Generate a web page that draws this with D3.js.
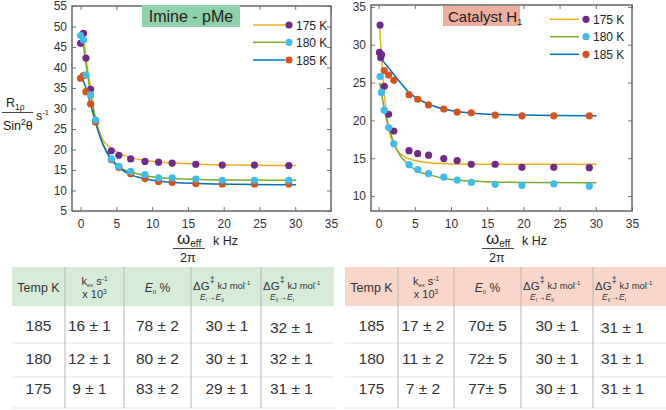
<!DOCTYPE html>
<html><head><meta charset="utf-8">
<script src="https://cdn.jsdelivr.net/npm/d3@7"></script>
<style>
html,body{margin:0;padding:0;background:#fff;}
text{font-family:"Liberation Sans",Arial,sans-serif;}
</style></head>
<body>
<script>
// ---------- DATA ----------
const xTicks = [0,5,10,15,20,25,30,35];
const leftYTicks = [5,10,15,20,25,30,35,40,45,50,55];
const rightYTicks = [10,15,20,25,30,35];
const seriesNames = ["175 K","180 K","185 K"];

// Imine - pMe : measured points
const imineX = [0.0,0.4,0.75,1.4,2.1,4.3,5.35,7.0,9.0,10.9,12.8,16.1,19.8,24.3,29.1];
const imine175 = [45.9,48.3,42.3,34.7,26.8,19.7,18.6,17.7,17.1,16.9,16.7,16.4,16.2,16.2,16.1];
const imine180 = [47.8,46.7,38.2,33.3,27.2,17.7,15.9,14.7,13.9,13.1,13.1,12.8,12.5,12.5,12.5];
const imine185 = [37.4,38.0,34.1,31.1,26.7,17.5,15.6,14.1,12.9,12.2,12.0,11.7,11.6,11.6,11.6];
// Imine - pMe : fitted curves
const imineFitX175 = [0.4,0.75,1.4,2.1,3.1,4.3,5.5,7.3,9.5,12,16.5,22,30.1];
const imineFit175 = [48.3,42.5,35,27.5,22.4,20.3,19.0,17.9,17.2,16.8,16.4,16.2,16.1];
const imineFitX180 = [0.2,0.75,1.4,2.1,3.1,4.3,5.5,7.3,9.5,12,16.5,22,30.1];
const imineFit180 = [47.5,41,33.5,27,21.5,17.8,15.6,14.4,13.5,13.0,12.7,12.55,12.5];
const imineFitX185 = [0.0,0.75,1.4,2.1,3.1,4.3,5.5,7.3,9.5,12,16.5,22,30.1];
const imineFit185 = [38.5,35,31,26.5,21.3,17.5,15.4,13.7,12.7,12.1,11.7,11.5,11.4];

// Catalyst H1 : measured points
const catX175 = [0.2,0.12,0.4,0.3,0.78,1.38,2.1,4.2,5.4,6.9,9.0,10.85,12.8,16.1,19.8,24.2,29.1];
const cat175 = [32.6,29.0,28.7,28.3,24.5,20.8,18.6,16.0,15.6,15.4,14.95,14.7,14.2,14.2,13.8,13.8,13.75];
const catX180 = [0.2,0.4,0.78,1.38,2.1,4.2,5.4,6.9,9.0,10.85,12.8,16.1,19.8,24.2,29.1];
const cat180 = [25.8,23.7,21.35,19.05,16.9,14.15,13.5,12.96,12.5,12.1,11.8,11.55,11.4,11.6,11.3];
const catX185 = [0.78,1.38,2.1,4.2,5.4,6.9,9.0,10.85,12.8,16.1,19.8,24.2,29.1];
const cat185 = [26.6,26.0,25.3,23.4,22.8,22.05,21.5,21.1,21.0,20.7,20.6,20.6,20.6];
// Catalyst H1 : fitted curves
const catFitX175 = [0.15,0.5,1,1.5,2,3,4,5,7,10,15,30.1];
const catFit175 = [32.2,27,21.5,18.5,17,15.6,15.0,14.7,14.4,14.25,14.2,14.2];
const catFitX180 = [0.15,0.5,1,1.5,2,3,4,5,7,10,15,20,30.1];
const catFit180 = [25.0,23,20.5,18.8,17.3,15.3,14.3,13.5,12.8,12.2,11.9,11.8,11.75];
const catFitX185 = [0.3,1,2,3,4,5,7,10,13,20,30.1];
const catFit185 = [28.2,27.4,26.2,25,23.9,23.1,22.1,21.3,20.95,20.7,20.6];

// Tables
const tempRows = ["185","180","175"];
const imineKex = ["16 ± 1","12 ± 1","9 ± 1"];
const imineEII = ["78 ± 2","80 ± 2","83 ± 2"];
const imineG1 = ["30 ± 1","30 ± 1","29 ± 1"];
const imineG2 = ["32 ± 1","32 ± 1","31 ± 1"];
const catKex = ["17 ± 2","11 ± 2","7 ± 2"];
const catEII = ["70± 5","72± 5","77± 5"];
const catG1 = ["30 ± 1","30 ± 1","30 ± 1"];
const catG2 = ["31 ± 1","31 ± 1","31 ± 1"];

// ---------- STYLE ----------
const lineColors = ["#edb120","#77ac30","#0072bd"];
const dotColors = ["#6f2a8c","#3fbcee","#d6541b"];
const FONT = '"Liberation Sans",Arial,sans-serif';

const svg = d3.select("body").append("svg").attr("width",666).attr("height",410);

function drawPlot(o){
  const g = svg.append("g");
  const x = d3.scaleLinear().domain(o.xd).range(o.xr);
  const y = d3.scaleLinear().domain(o.yd).range(o.yr);
  const [x0,x1] = o.xr, [y0,y1] = o.yr;
  const axStyle = sel => {
    sel.select(".domain").remove();
    sel.selectAll(".tick line").attr("stroke","#777");
    sel.selectAll(".tick text").attr("fill","#333").style("font-size","12px").style("font-family",FONT);
  };
  g.append("g").attr("transform",`translate(0,${y0})`)
    .call(d3.axisBottom(x).tickValues(xTicks).tickSize(-4).tickPadding(8)).call(axStyle);
  g.append("g").attr("transform",`translate(0,${y1})`)
    .call(d3.axisTop(x).tickValues(xTicks).tickSize(-4).tickFormat("")).call(axStyle);
  g.append("g").attr("transform",`translate(${x0},0)`)
    .call(d3.axisLeft(y).tickValues(o.yTicks).tickSize(-4).tickPadding(5)).call(axStyle);
  g.append("g").attr("transform",`translate(${x1},0)`)
    .call(d3.axisRight(y).tickValues(o.yTicks).tickSize(-4).tickFormat("")).call(axStyle);
  g.append("rect").attr("x",x0).attr("y",y1).attr("width",x1-x0).attr("height",y0-y1)
    .attr("fill","none").attr("stroke","#666").attr("stroke-width",1.5);

  const line = d3.line().x(d=>x(d[0])).y(d=>y(d[1])).curve(d3.curveMonotoneX);
  o.fits.forEach((f,i)=>{
    g.append("path").datum(d3.zip(f[0],f[1])).attr("d",line)
      .attr("fill","none").attr("stroke",lineColors[i]).attr("stroke-width",1.5);
  });
  o.drawOrder.forEach(i=>{
    const p = o.points[i];
    g.append("g").selectAll("circle").data(d3.zip(p[0],p[1])).join("circle")
      .attr("cx",d=>x(d[0])).attr("cy",d=>y(d[1])).attr("r",3.6).attr("fill",dotColors[i]);
  });
  seriesNames.forEach((n,i)=>{
    const ly = o.leg.y[i];
    g.append("line").attr("x1",o.leg.x1).attr("x2",o.leg.x2).attr("y1",ly).attr("y2",ly)
      .attr("stroke",lineColors[i]).attr("stroke-width",1.5);
    g.append("circle").attr("cx",o.leg.dx).attr("cy",ly).attr("r",3.6).attr("fill",dotColors[i]);
    g.append("text").attr("x",o.leg.tx).attr("y",ly+4.5).attr("fill","#222")
      .style("font-size","12px").text(n);
  });
  const xl = o.xlab;
  const w = g.append("text").attr("x",xl.x).attr("y",244).attr("fill","#222").style("font-size","17px");
  w.append("tspan").text("ω");
  w.append("tspan").attr("dy",3).style("font-size","10px").text("eff");
  g.append("line").attr("x1",xl.x-4).attr("x2",xl.x+28).attr("y1",248.5).attr("y2",248.5).attr("stroke","#333").attr("stroke-width",0.9);
  g.append("text").attr("x",xl.x+3).attr("y",262).attr("fill","#222").style("font-size","12.5px").text("2π");
  g.append("text").attr("x",xl.x+36).attr("y",245).attr("fill","#222").style("font-size","12.5px").text("k Hz");
  return {x,y,g};
}

drawPlot({
  xd:[-1.2,35], xr:[72,331], yd:[5,55], yr:[211,6], yTicks:leftYTicks,
  fits:[[imineFitX175,imineFit175],[imineFitX180,imineFit180],[imineFitX185,imineFit185]],
  points:[[imineX,imine175],[imineX,imine180],[imineX,imine185]],
  drawOrder:[0,2,1],
  leg:{x1:253,x2:285,dx:289,tx:296,y:[25,42.3,60]},
  xlab:{x:177}
});
drawPlot({
  xd:[-1.05,35], xr:[371,632], yd:[8.02,35.26], yr:[211,5], yTicks:rightYTicks,
  fits:[[catFitX175,catFit175],[catFitX180,catFit180],[catFitX185,catFit185]],
  points:[[catX175,cat175],[catX180,cat180],[catX185,cat185]],
  drawOrder:[2,0,1],
  leg:{x1:550,x2:579,dx:586,tx:593,y:[19.3,36.7,54.3]},
  xlab:{x:486}
});

// titles
svg.append("rect").attr("x",142).attr("y",5).attr("width",98).attr("height",22).attr("fill","#8fd1a8");
svg.append("text").attr("x",191).attr("y",22).attr("text-anchor","middle").attr("fill","#222")
  .style("font-size","16px").text("Imine - pMe");
svg.append("rect").attr("x",443).attr("y",6).attr("width",77).attr("height",20).attr("fill","#eeae9c");
const ct = svg.append("text").attr("x",448).attr("y",22).attr("fill","#222").style("font-size","15px");
ct.append("tspan").text("Catalyst  H");
ct.append("tspan").attr("dy",3).style("font-size","9px").text("1");

// y label (left)
const yl1 = svg.append("text").attr("x",6).attr("y",107).attr("fill","#222").style("font-size","12.5px");
yl1.append("tspan").text("R");
yl1.append("tspan").attr("dy",3).style("font-size","8.5px").text("1ρ");
svg.append("line").attr("x1",2).attr("x2",33).attr("y1",112.5).attr("y2",112.5).attr("stroke","#333").attr("stroke-width",0.9);
const yl2 = svg.append("text").attr("x",3).attr("y",130).attr("fill","#222").style("font-size","12.5px");
yl2.append("tspan").text("Sin");
yl2.append("tspan").attr("dy",-5).style("font-size","8.5px").text("2");
yl2.append("tspan").attr("dy",5).text("θ");
const yl3 = svg.append("text").attr("x",36).attr("y",120).attr("fill","#222").style("font-size","12.5px");
yl3.append("tspan").text("s");
yl3.append("tspan").attr("dy",-5).style("font-size","7.5px").text("-1");

// ---------- TABLES ----------
function drawTable(o){
  const g = svg.append("g");
  const c = o.cols, top=267, hb=306;
  g.append("rect").attr("x",c[0]).attr("y",top).attr("width",c[5]-c[0]).attr("height",hb-top).attr("fill",o.head);
  [343,377,408].forEach(yy=>{
    g.append("line").attr("x1",c[0]).attr("x2",c[5]).attr("y1",yy).attr("y2",yy).attr("stroke","#e3e3e3").attr("stroke-width",1.2);
  });
  for(let i=1;i<5;i++){
    g.append("line").attr("x1",c[i]).attr("x2",c[i]).attr("y1",top).attr("y2",408).attr("stroke","#b5b5b5").attr("stroke-width",1);
  }
  const t = (x,y,s,anchor)=> g.append("text").attr("x",x).attr("y",y).attr("fill","#333")
      .attr("text-anchor",anchor||"start").style("font-size",s+"px");
  t((c[0]+c[1])/2,292,12.5,"middle").text("Temp K");
  const k1 = t((c[1]+c[2])/2,285,11,"middle");
  k1.append("tspan").text("k");
  k1.append("tspan").attr("dy",2).style("font-size","6px").text("ex");
  k1.append("tspan").attr("dy",-2).text(" s");
  k1.append("tspan").attr("dy",-4).style("font-size","6.5px").text("-1");
  const k2 = t((c[1]+c[2])/2,298,11,"middle");
  k2.append("tspan").text("x 10");
  k2.append("tspan").attr("dy",-4).style("font-size","6.5px").text("3");
  const e = t((c[2]+c[3])/2,292,12,"middle");
  e.append("tspan").style("font-style","italic").text("E");
  e.append("tspan").attr("dy",2).style("font-size","6px").text("II");
  e.append("tspan").attr("dy",-2).text(" %");
  [[3,"I","II"],[4,"II","I"]].forEach(([ci,a,b])=>{
    const L = c[ci];
    const dg = t(L+2,290,11.5);
    dg.append("tspan").text("ΔG");
    dg.append("tspan").attr("dy",-7).style("font-size","9px").text("‡");
    const kj = t(L+26.5,289,9.5);
    kj.append("tspan").text("kJ mol");
    kj.append("tspan").attr("dy",-4).style("font-size","6px").text("-1");
    const sb = t(L+9,300,8.5);
    sb.append("tspan").style("font-style","italic").text("E");
    sb.append("tspan").attr("dy",1.5).style("font-size","5px").text(a);
    sb.append("tspan").attr("dy",-1.5).text("→");
    sb.append("tspan").style("font-style","italic").text("E");
    sb.append("tspan").attr("dy",1.5).style("font-size","5px").text(b);
  });
  const ys = [331,364,394];
  const cols = [tempRows,o.kex,o.eii,o.g1,o.g2];
  cols.forEach((arr,ci)=>{
    arr.forEach((v,ri)=>{
      t((c[ci]+c[ci+1])/2 + o.off[ci], ys[ri] + (ci===4&&ri===0?1.5:0), 15.5,"middle").text(v);
    });
  });
}
drawTable({cols:[12,65,124,191,261,334], head:"#d6ecd9", kex:imineKex, eii:imineEII, g1:imineG1, g2:imineG2, off:[0,-5,0,1,-6]});
drawTable({cols:[345,398,454,521,593,666], head:"#f9d6c9", kex:catKex, eii:catEII, g1:catG1, g2:catG2, off:[0,-3,0,0,-7]});
</script>
</body></html>
